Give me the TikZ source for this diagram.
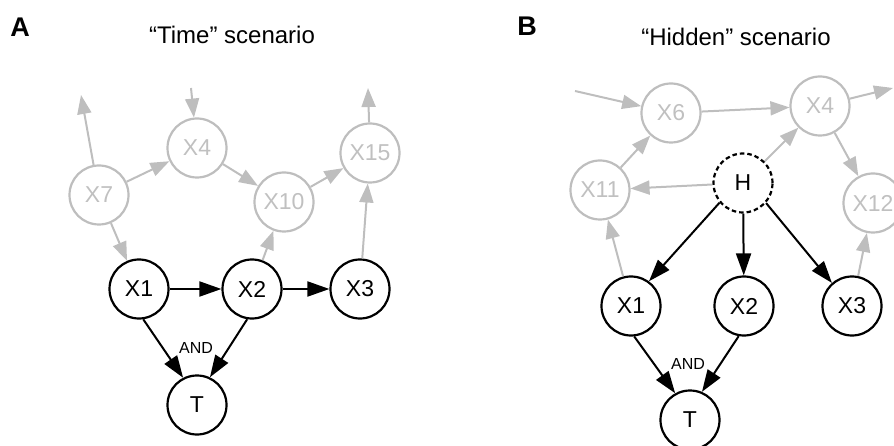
\documentclass[tikz,border=0pt]{standalone}
\usepackage{fontspec}
\setmainfont{Liberation Sans}
\usetikzlibrary{arrows.meta}
\definecolor{edgegray}{RGB}{190,190,190}
\definecolor{textgray}{RGB}{192,192,192}

\begin{document}
\begin{tikzpicture}[x=1pt,y=-1pt,
  var/.style={circle, draw=black, line width=2.2pt, minimum size=59pt, inner sep=0pt,
              font=\fontsize{23}{23}\selectfont},
  ghost/.style={var, draw=edgegray, text=textgray},
  latent/.style={var, dash pattern=on 4.5pt off 3pt},
  link/.style={draw=black, line width=2pt, -{Triangle[length=22pt,width=15pt]}},
  faint/.style={draw=edgegray, line width=2pt, -{Triangle[length=19pt,width=14pt]}},
  heading/.style={font=\fontsize{24}{24}\selectfont},
  panel/.style={font=\fontsize{27}{27}\selectfont\bfseries},
  gate/.style={font=\fontsize{16}{16}\selectfont}]

\useasboundingbox (0,0) rectangle (894,446);
\clip (0,0) rectangle (894,446);

% ---------------- Panel A ----------------
\node[panel] (labA) at (20,27) {A};
\node[heading] (titA) at (232,35) {“Time” scenario};

\node[ghost] (a7)  at (99,195)  {X7};
\node[ghost] (a4)  at (197,148) {X4};
\node[ghost] (a10) at (284,202) {X10};
\node[ghost] (a15) at (370,153) {X15};
\node[var]   (a1)  at (139,289) {X1};
\node[var]   (a2)  at (252,289) {X2};
\node[var]   (a3)  at (360,289) {X3};
\node[var]   (aT)  at (197,405) {T};
\node[gate]  (aAnd) at (196,348) {AND};

\coordinate (a7up)  at (81,95);
\coordinate (a4in)  at (191,88);
\coordinate (a15up) at (368,88);

\draw[faint] (a7) -- (a7up);
\draw[faint] (a4in) -- (a4);
\draw[faint] (a15) -- (a15up);
\draw[faint] (a7) -- (a4);
\draw[faint] (a4) -- (a10);
\draw[faint] (a10) -- (a15);
\draw[faint] (a7) -- (a1);
\draw[faint] (a2) -- (a10);
\draw[faint] (a3) -- (a15);

\draw[link] (a1) -- (a2);
\draw[link] (a2) -- (a3);
\draw[link] (a1.-82) -- (aT.117);
\draw[link] (a2.-99) -- (aT.65);

% ---------------- Panel B ----------------
\node[panel] (labB) at (527,26) {B};
\node[heading] (titB) at (736,37) {“Hidden” scenario};

\node[ghost]  (b6)  at (671,113) {X6};
\node[ghost]  (b4)  at (820,106) {X4};
\node[ghost]  (b11) at (600,190) {X11};
\node[ghost]  (b12) at (873,203) {X12};
\node[latent] (bH)  at (743,183) {H};
\node[var]    (b1)  at (631,306) {X1};
\node[var]    (b2)  at (744,306) {X2};
\node[var]    (b3)  at (852,306) {X3};
\node[var]    (bT)  at (690,420) {T};
\node[gate]   (bAnd) at (688,364) {AND};

\coordinate (b6in)  at (575,91);
\coordinate (b4out) at (893,88);

\draw[faint] (b6in) -- (b6);
\draw[faint] (b6) -- (b4);
\draw[faint] (b4) -- (b4out);
\draw[faint] (b4) -- (b12);
\draw[faint] (b11) -- (b6);
\draw[faint] (bH) -- (b4);
\draw[faint] (bH) -- (b11);
\draw[faint] (b1) -- (b11);
\draw[faint] (b3) -- (b12);

\draw[link] (bH.220) -- (b1.54);
\draw[link] (bH) -- (b2);
\draw[link] (bH.-41) -- (b3.131);
\draw[link] (b1.-84) -- (bT.119);
\draw[link] (b2.-100) -- (bT.67);
\end{tikzpicture}
\end{document}
